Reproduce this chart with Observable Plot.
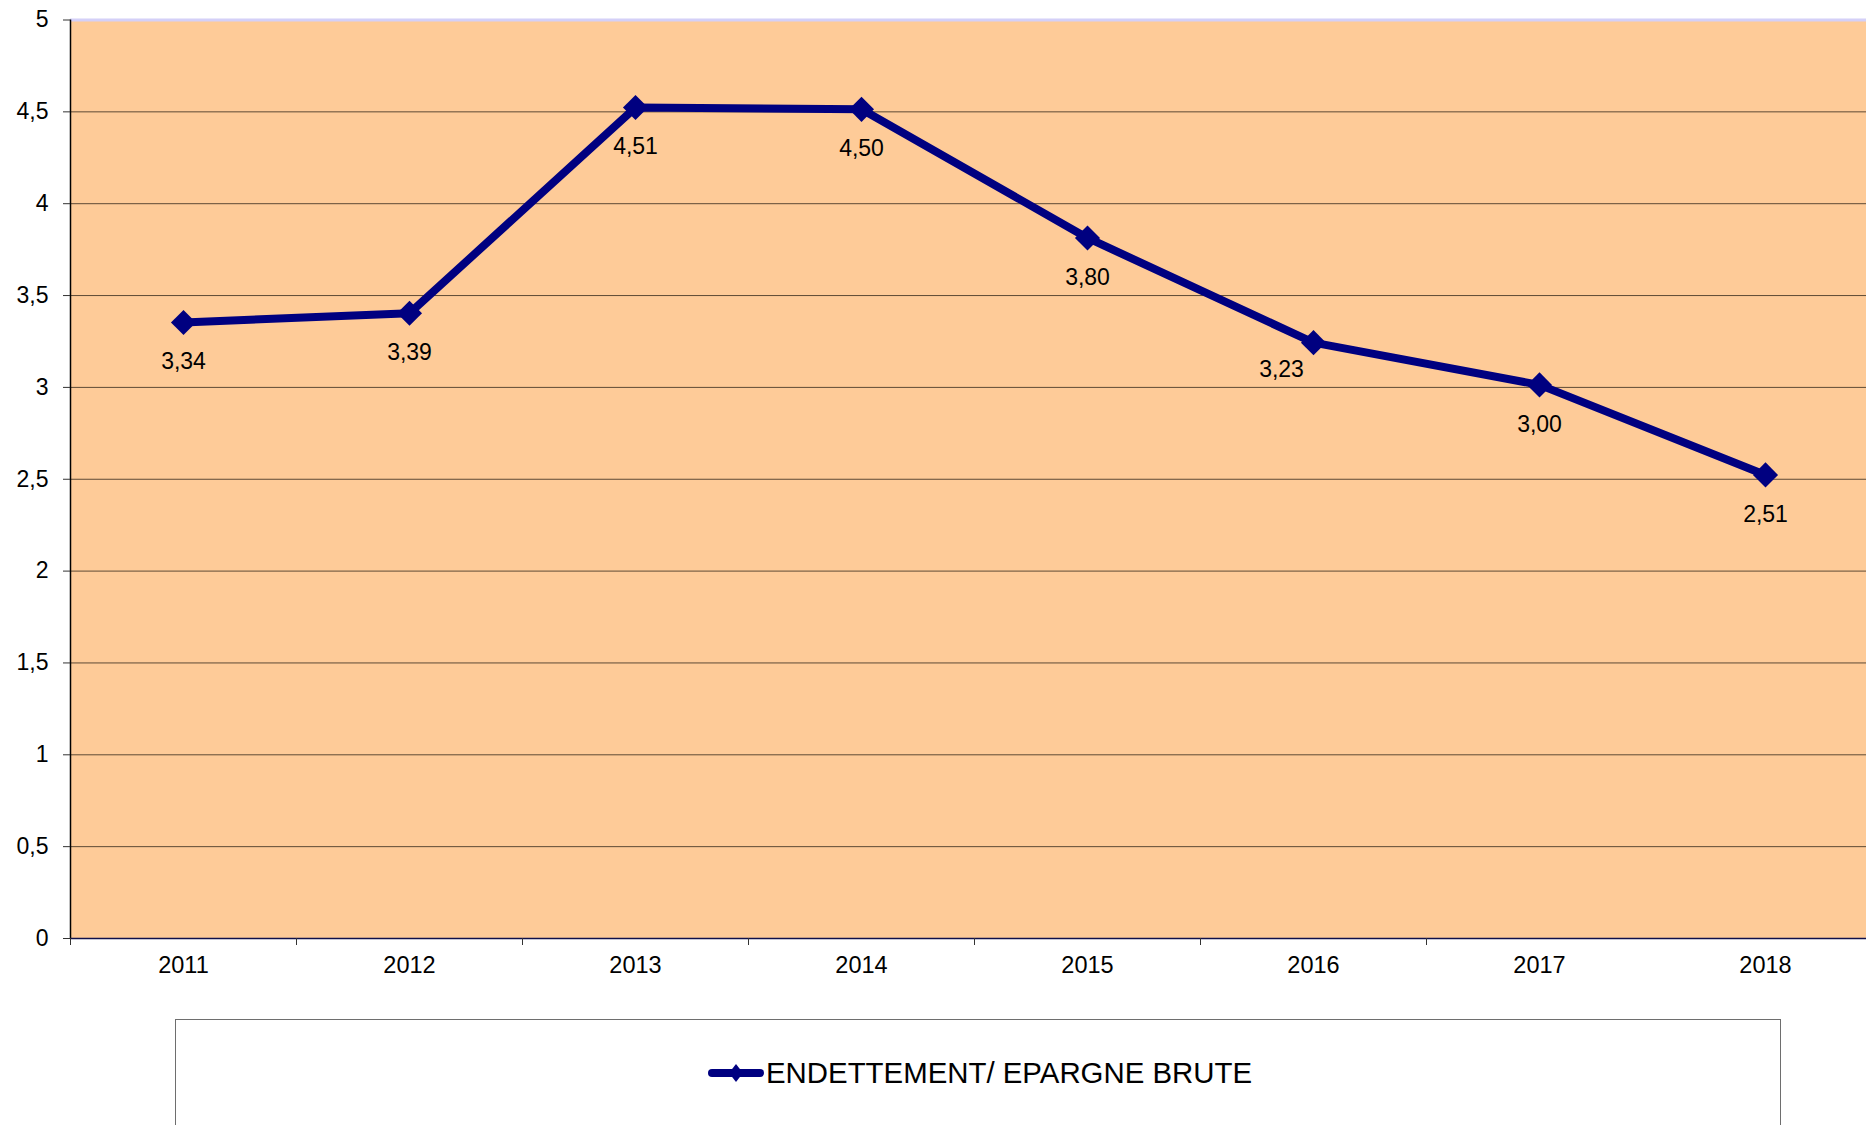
<!DOCTYPE html>
<html>
<head>
<meta charset="utf-8">
<script src="https://cdn.jsdelivr.net/npm/d3@7"></script>
<script src="https://cdn.jsdelivr.net/npm/@observablehq/plot@0.6"></script>
<style>
  html, body { margin: 0; padding: 0; background: #fff; overflow: hidden; width: 1866px; height: 1125px; }
  body { position: relative; font-family: "Liberation Sans", Arial, sans-serif; }
  #chart { position: absolute; left: 0; top: 0; }
  #legend { position: absolute; left: 175px; top: 1019px; width: 1604px; height: 200px;
            border: 1px solid #6e6e6e; border-bottom: none; background: #fff; }
  #legend .item { position: absolute; left: 532px; top: 37px; display: flex; align-items: center; height: 32px; }
  #legend .lbl { font-size: 29.4px; color: #000; margin-left: 2px; }
</style>
</head>
<body>
<div id="chart"></div>
<div id="legend"></div>
<script>
const years = [2011, 2012, 2013, 2014, 2015, 2016, 2017, 2018];
const ratios = [3.34, 3.39, 4.51, 4.50, 3.80, 3.23, 3.00, 2.51];
const yTicks = [0, 0.5, 1, 1.5, 2, 2.5, 3, 3.5, 4, 4.5, 5];
const seriesName = "ENDETTEMENT/ EPARGNE BRUTE";

const data = years.map((y, i) => ({year: y, value: ratios[i]}));
const xMin = years[0] - 0.5;
const xMax = years[years.length - 1] + 0.5;
const boundaries = years.slice(0, -1).map(y => y - 0.5);
const yMax = yTicks[yTicks.length - 1];
const fmt = d => d.toFixed(2).replace(".", ",");
const yFmt = d => String(d).replace(".", ",");
const navy = "#000080";
const shiftedYear = 2016; // label placed up-left of its point in the original

const chart = Plot.plot({
  width: 1866,
  height: 1000,
  marginLeft: 70,
  marginRight: 0,
  marginTop: 19.5,
  marginBottom: 62,
  style: {fontFamily: "Liberation Sans, Arial, sans-serif", background: "transparent", overflow: "hidden"},
  x: {type: "linear", domain: [xMin, xMax], range: [70, 1878], label: null},
  y: {domain: [0, yMax], label: null},
  marks: [
    Plot.rect([0], {x1: xMin, x2: xMax, y1: 0, y2: yMax, fill: "#FECB98"}),
    Plot.ruleY(yTicks.filter(t => t > 0 && t < yMax), {stroke: "#5e4a35", strokeWidth: 1}),
    Plot.ruleY([yMax], {stroke: "#d4d0f8", strokeWidth: 3}),
    Plot.ruleX([xMin], {stroke: "#000", strokeWidth: 1.5}),
    Plot.ruleY([0], {stroke: "#10104a", strokeWidth: 1.5}),
    Plot.axisY({ticks: yTicks, tickSize: 7, tickPadding: 15, tickFormat: yFmt, fontSize: 23, stroke: "#333", fill: "#000", label: null}),
    Plot.axisX({ticks: boundaries, tickSize: 7, tickFormat: () => "", stroke: "#333", label: null}),
    Plot.axisX({ticks: years, tickSize: 0, tickPadding: 18, tickFormat: d => String(d), fontSize: 23.5, fill: "#000", label: null}),
    Plot.line(data, {x: "year", y: "value", dy: -2.5, stroke: navy, strokeWidth: 8, strokeLinejoin: "miter", strokeLinecap: "butt"}),
    Plot.dot(data, {x: "year", y: "value", dy: -2.5, symbol: "diamond2", r: 11.3, fill: navy, stroke: "none"}),
    Plot.text(data.filter(d => d.year !== shiftedYear), {x: "year", y: "value", text: d => fmt(d.value), dy: 37, fontSize: 23, fill: "#000"}),
    Plot.text(data.filter(d => d.year === shiftedYear), {x: "year", y: "value", text: d => fmt(d.value), dx: -32, dy: 24, fontSize: 23, fill: "#000"})
  ]
});
document.getElementById("chart").appendChild(chart);

// Legend (HTML, below the chart area)
const legend = document.getElementById("legend");
const item = document.createElement("div");
item.className = "item";
const ns = "http://www.w3.org/2000/svg";
const sw = document.createElementNS(ns, "svg");
sw.setAttribute("width", "56");
sw.setAttribute("height", "24");
const ln = document.createElementNS(ns, "line");
ln.setAttribute("x1", "4"); ln.setAttribute("x2", "52");
ln.setAttribute("y1", "12"); ln.setAttribute("y2", "12");
ln.setAttribute("stroke", navy); ln.setAttribute("stroke-width", "8"); ln.setAttribute("stroke-linecap", "round");
sw.appendChild(ln);
const dm = document.createElementNS(ns, "path");
dm.setAttribute("d", "M28,3 L35,12 L28,21 L21,12 Z");
dm.setAttribute("fill", navy);
sw.appendChild(dm);
item.appendChild(sw);
const lbl = document.createElement("span");
lbl.className = "lbl";
lbl.textContent = seriesName;
item.appendChild(lbl);
legend.appendChild(item);
</script>
</body>
</html>
